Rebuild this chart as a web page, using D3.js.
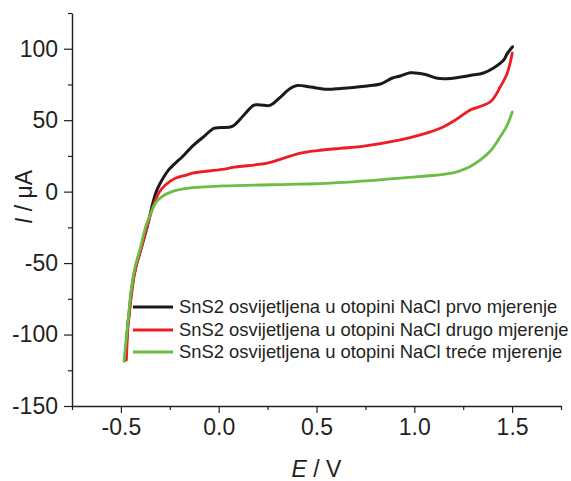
<!DOCTYPE html>
<html><head><meta charset="utf-8">
<script src="https://cdn.jsdelivr.net/npm/d3@7"></script>
<style>
html,body{margin:0;padding:0;background:#fff;}
svg{display:block;font-family:"Liberation Sans",Arial,sans-serif;}
</style></head>
<body>
<svg id="chart" width="571" height="481"></svg>
<script>
// ---- data (E in V, I in µA) ----
const seriesNames = [
  "SnS2 osvijetljena u otopini NaCl prvo mjerenje",
  "SnS2 osvijetljena u otopini NaCl drugo mjerenje",
  "SnS2 osvijetljena u otopini NaCl treće mjerenje"
];
const seriesColors = ["#1a1a1a", "#ee1d25", "#6cbd45"];

const blackE = [-0.478,-0.4653,-0.456,-0.4474,-0.4346,-0.419,-0.394,-0.3657,-0.3325,-0.3156,-0.29,-0.2559,-0.2135,-0.195,-0.127,-0.076,-0.025,0.01,0.069,0.129,0.18,0.214,0.256,0.275,0.316,0.367,0.401,0.469,0.555,0.622,0.674,0.759,0.827,0.888,0.929,0.98,1.057,1.118,1.184,1.286,1.354,1.405,1.457,1.475,1.502];
const blackI = [-118,-94.4,-82.7,-71,-59.4,-50,-38.5,-24.5,-5.8,1.2,8.2,15.2,21,23.2,32.7,38.5,44.3,44.8,45.6,53.6,60.6,60.6,60.2,61.3,66.2,72.3,74.3,73.2,71.6,72.2,72.7,73.9,75.3,79.5,80.9,83.2,82,79.3,79.2,81.3,83,86.5,92.1,96.6,101.4];

const redE = [-0.4719,-0.4637,-0.455,-0.4448,-0.433,-0.418,-0.394,-0.3667,-0.341,-0.307,-0.273,-0.2217,-0.1624,-0.135,0.018,0.078,0.248,0.333,0.418,0.504,0.622,0.725,0.929,1.031,1.133,1.21,1.286,1.389,1.44,1.475,1.501];
const redI = [-117.7,-94.4,-82.7,-71,-59.4,-50,-38.5,-24.5,-12.8,-1.1,4.7,9.4,11.7,13,15.5,17.1,19.9,23.4,26.9,28.7,30.3,31.5,36.2,39.7,44.3,50.1,57.1,62.9,73.4,82.8,97];

const greenE = [-0.4842,-0.4755,-0.4668,-0.4586,-0.45,-0.4382,-0.4244,-0.4004,-0.3749,-0.3493,-0.3238,-0.2901,-0.239,-0.1537,0.018,0.418,0.571,0.929,1.184,1.235,1.286,1.338,1.389,1.44,1.475,1.501];
const greenI = [-118.7,-106.8,-95.2,-83.5,-71.9,-60.3,-50.9,-39.3,-25.3,-15.9,-8.1,-3.5,0,2.4,4.0,5.2,5.9,9.4,12.7,14.6,17.6,22.2,28.4,38.5,46.6,55.7];

const xMajorTicks = [-0.5, 0.0, 0.5, 1.0, 1.5];
const xMinorTicks = [-0.75, -0.25, 0.25, 0.75, 1.25, 1.75];
const yMajorTicks = [-150, -100, -50, 0, 50, 100];
const yMinorTicks = [-125, -75, -25, 25, 75, 125];
const xLabel = ["E", " / V"];
const yLabel = ["I", " / μA"];

// ---- layout ----
const svg = d3.select("#chart");
const mLeft = 72, mRight = 561, mTop = 13, mBottom = 406;
const x = d3.scaleLinear().domain([-0.75, 1.75]).range([mLeft, mRight]);
const y = d3.scaleLinear().domain([-150, 125]).range([mBottom, mTop]);
const axisColor = "#231f20";

// curves
const series = [
  blackE.map((e,i)=>[e, blackI[i]]),
  redE.map((e,i)=>[e, redI[i]]),
  greenE.map((e,i)=>[e, greenI[i]])
];
const line = d3.line().x(d=>x(d[0])).y(d=>y(d[1])).curve(d3.curveCatmullRom.alpha(0.5));
[0,1,2].forEach(k=>{
  svg.append("path").attr("d", line(series[k]))
    .attr("fill","none").attr("stroke", seriesColors[k])
    .attr("stroke-width", k===0 ? 3 : 2.8).attr("stroke-linejoin","round").attr("stroke-linecap","round");
});

// axes
function styleAxis(g){
  g.select(".domain").attr("stroke", axisColor).attr("stroke-width", 1.4);
  g.selectAll(".tick line").attr("stroke", axisColor).attr("stroke-width", 1.2);
  g.selectAll(".tick text").attr("fill", axisColor)
    .style("font-family", '"Liberation Sans",Arial,sans-serif').style("font-size","23px");
}
const xAxisG = svg.append("g").attr("transform",`translate(0,${mBottom})`)
  .call(d3.axisBottom(x).tickValues(xMajorTicks).tickFormat(d3.format(".1f")).tickSizeOuter(0).tickSizeInner(7).tickPadding(6));
styleAxis(xAxisG);
xAxisG.selectAll(".tick text").text(d=>d3.format(".1f")(d).replace("−","-"));
const xMinorG = svg.append("g").attr("transform",`translate(0,${mBottom})`)
  .call(d3.axisBottom(x).tickValues(xMinorTicks).tickFormat("").tickSizeOuter(0).tickSizeInner(4));
xMinorG.select(".domain").remove();
xMinorG.selectAll(".tick line").attr("stroke", axisColor).attr("stroke-width", 1.2);

const yAxisG = svg.append("g").attr("transform",`translate(${mLeft},0)`)
  .call(d3.axisLeft(y).tickValues(yMajorTicks).tickSizeOuter(0).tickSizeInner(8).tickPadding(6));
styleAxis(yAxisG);
yAxisG.selectAll(".tick text").text(d=>String(d));
const yMinorG = svg.append("g").attr("transform",`translate(${mLeft},0)`)
  .call(d3.axisLeft(y).tickValues(yMinorTicks).tickFormat("").tickSizeOuter(0).tickSizeInner(4));
yMinorG.select(".domain").remove();
yMinorG.selectAll(".tick line").attr("stroke", axisColor).attr("stroke-width", 1.2);

// axis titles
const xt = svg.append("text").attr("x", x(0.5)).attr("y", 477).attr("text-anchor","middle")
  .attr("fill", axisColor).style("font-size","23px");
xt.append("tspan").style("font-style","italic").text(xLabel[0]);
xt.append("tspan").text(xLabel[1]);

const yt = svg.append("text").attr("transform", `translate(32,197) rotate(-90)`).attr("text-anchor","middle")
  .attr("fill", axisColor).style("font-size","23px");
yt.append("tspan").style("font-style","italic").text(yLabel[0]);
yt.append("tspan").text(yLabel[1]);

// legend
const legY = [307, 330, 352];
seriesNames.forEach((name,i)=>{
  svg.append("line").attr("x1",133).attr("x2",173).attr("y1",legY[i]).attr("y2",legY[i])
    .attr("stroke", seriesColors[i]).attr("stroke-width", 2.8);
  svg.append("text").attr("x",179).attr("y",legY[i]).attr("dy","0.35em")
    .attr("fill", axisColor).style("font-size","18.4px").text(name);
});
</script>
</body></html>
